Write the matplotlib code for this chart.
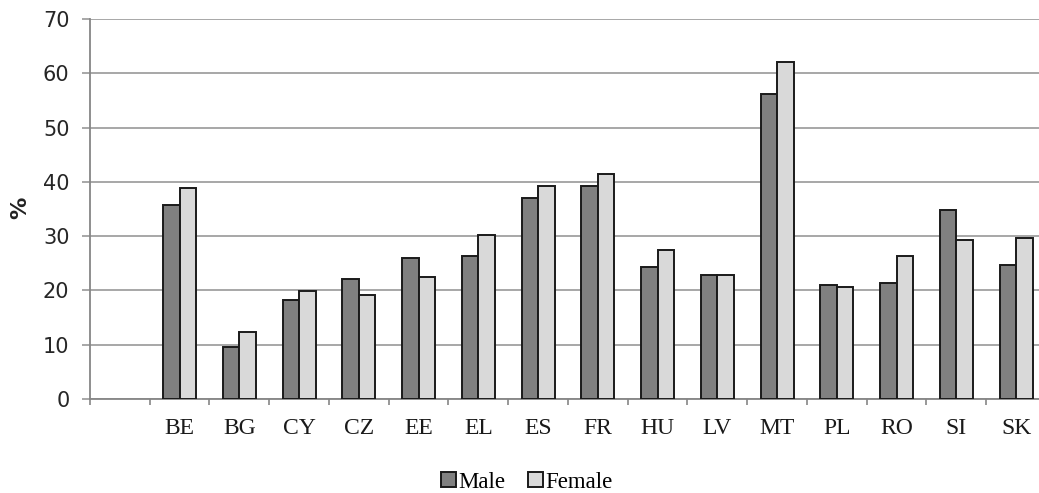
import numpy as np
import matplotlib
matplotlib.use("Agg")
import matplotlib.pyplot as plt

# share of respondents by country and sex (%)
countries = ["", "BE", "BG", "CY", "CZ", "EE", "EL", "ES", "FR", "HU", "LV", "MT", "PL", "RO", "SI", "SK"]
male = [np.nan, 35.7, 9.6, 18.2, 22.1, 26.0, 26.4, 37.1, 39.3, 24.3, 22.8, 56.1, 21.0, 21.4, 34.9, 24.6]
female = [np.nan, 38.9, 12.4, 19.9, 19.2, 22.5, 30.3, 39.3, 41.4, 27.4, 22.8, 62.1, 20.7, 26.3, 29.3, 29.6]
yticks = [0, 10, 20, 30, 40, 50, 60, 70]

grid_col = "#a0a0a0"
axis_col = "#868686"

fig = plt.figure(figsize=(10.39, 4.93), dpi=100)
ax = fig.add_axes([90 / 1039, 94 / 493, 956 / 1039, 380 / 493])

x = np.arange(len(countries))
w = 0.277
ax.bar(x - w / 2, male, w, color="#808080", edgecolor="#1a1a1a", linewidth=1.4, label="Male", zorder=3)
ax.bar(x + w / 2, female, w, color="#d9d9d9", edgecolor="#1a1a1a", linewidth=1.4, label="Female", zorder=3)

ax.set_xlim(-0.5, len(countries) - 0.5)
ax.set_ylim(0, 70)
ax.set_yticks(yticks)
ax.yaxis.grid(True, color=grid_col, linewidth=1.3, zorder=0)
ax.set_axisbelow(True)

ax.set_xticks(x)
ax.set_xticklabels(countries, family="Liberation Serif", fontsize=17, color="#1a1a1a")
ax.set_xticks(np.arange(len(countries)) - 0.5, minor=True)
ax.tick_params(axis="x", which="major", length=0, pad=14)
ax.tick_params(axis="x", which="minor", length=4, color=axis_col, width=1.2)
ax.tick_params(axis="y", length=5.8, color=grid_col, width=1.3, labelsize=15, pad=9, labelcolor="#262626")

for s in ["top", "right"]:
    ax.spines[s].set_visible(False)
for s in ["left", "bottom"]:
    ax.spines[s].set_color(axis_col)
    ax.spines[s].set_linewidth(1.3)

fig.text(20 / 1039, 1 - 208 / 493, "%", rotation=90, fontsize=16, fontweight="bold",
         ha="center", va="center", color="#222222")

fig.legend(loc="center", bbox_to_anchor=(527 / 1039, 11 / 493), ncol=2, frameon=False,
           prop={"family": "Liberation Serif", "size": 16.5}, handlelength=0.65, handleheight=0.65,
           handletextpad=0.1, columnspacing=1.0, borderpad=0)

fig.savefig("out.png", dpi=100)
